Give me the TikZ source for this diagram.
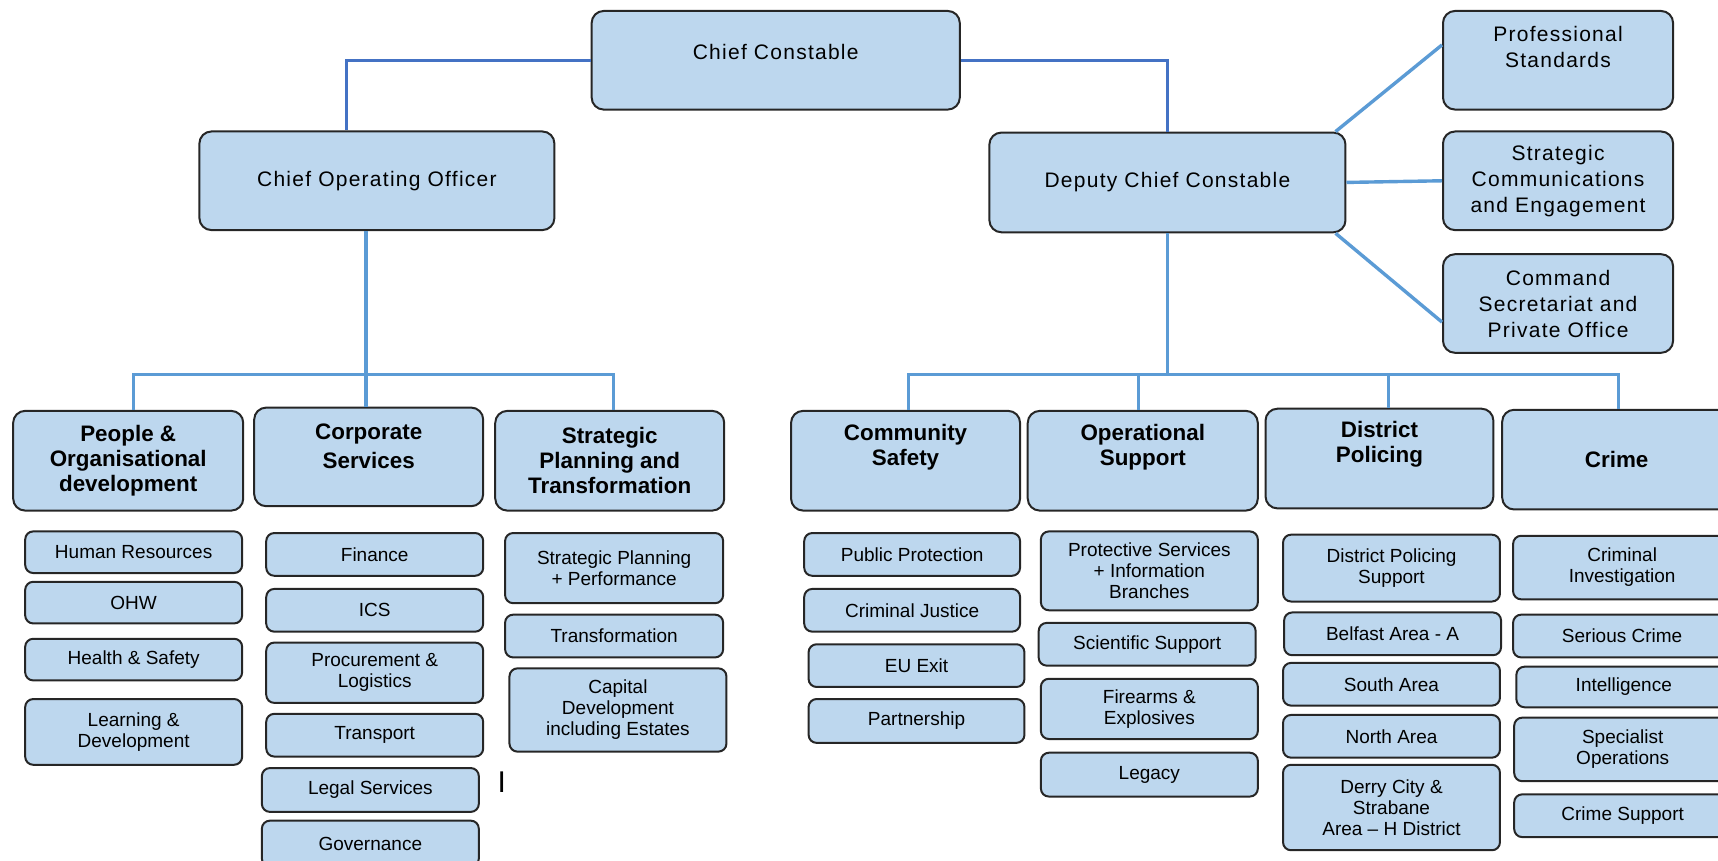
\documentclass[tikz,border=0pt]{standalone}
\usepackage{fontspec}
\setmainfont{Liberation Sans}
\newfontfamily\spacedsans[LetterSpace=6]{Liberation Sans}
\usetikzlibrary{positioning}
\definecolor{boxblue}{HTML}{BDD7EE}
\definecolor{boxedge}{HTML}{262626}
\definecolor{topline}{HTML}{4472C4}
\definecolor{subline}{HTML}{5B9BD5}
\newlength{\unitpx}
\setlength{\unitpx}{0.5478pt}

\begin{document}
\begin{tikzpicture}[x=\unitpx,y=-\unitpx,
  rankbox/.style={draw=boxedge,fill=boxblue,line width=1pt,rounded corners=6pt,align=center,inner sep=2pt},
  topbox/.style={rankbox,minimum width=210\unitpx,minimum height=90\unitpx,font=\spacedsans\fontsize{10.5}{13}\selectfont},
  headbox/.style={rankbox,minimum width=209\unitpx,minimum height=91\unitpx,font=\bfseries\fontsize{11.2}{12.5}\selectfont},
  unitbox/.style={rankbox,rounded corners=4pt,minimum width=198\unitpx,minimum height=39\unitpx,font=\fontsize{9.5}{10.5}\selectfont},
  toplink/.style={draw=topline,line width=1.7pt},
  sublink/.style={draw=subline,line width=1.7pt}]
  \clip (0,0) rectangle (1568,785);
  % command level
  \node[topbox,minimum width=336\unitpx] (cc) at (708,55) {Chief Constable\\[-9pt]\strut};
  \node[topbox,minimum width=324\unitpx] (coo) at (344,165) {Chief Operating Officer};
  \node[topbox,minimum width=325\unitpx,minimum height=91\unitpx] (dcc) at (1065.5,166.5) {Deputy Chief Constable};
  \node[topbox] (prof) at (1422,55) {Professional\\Standards\\[-4pt]\strut};
  \node[topbox] (comm) at (1422,165) {Strategic\\Communications\\and Engagement};
  \node[topbox] (cmd) at (1422,277) {Command\\Secretariat and\\Private Office};
  % departments
  \node[headbox,minimum width=210\unitpx] (pod) at (117,420.5) {People \&\\Organisational\\development};
  \node[headbox,minimum height=90\unitpx] (corp) at (336.5,417) {Corporate\\[2pt]Services\\[-6pt]\strut};
  \node[headbox] (spt) at (556.5,420.5) {Strategic\\Planning and\\Transformation};
  \node[headbox] (cs) at (826.5,420.5) {Community\\Safety\\\strut};
  \node[headbox,minimum width=210\unitpx] (ops) at (1043,420.5) {Operational\\Support\\\strut};
  \node[headbox,minimum width=208\unitpx] (dp) at (1259,418.5) {District\\Policing\\\strut};
  \node[headbox] (crime) at (1475.5,419.5) {Crime};
  % units
  \node[unitbox,minimum height=38\unitpx] (hr) at (122,504) {Human Resources};
  \node[unitbox,minimum height=38\unitpx] (ohw) at (122,550) {OHW};
  \node[unitbox,minimum height=38\unitpx] (hs) at (122,602) {Health \& Safety};
  \node[unitbox,minimum height=60\unitpx] (ld) at (122,668) {Learning \&\\Development};
  \node[unitbox] (fin) at (342,506) {Finance};
  \node[unitbox] (ics) at (342,557) {ICS};
  \node[unitbox,minimum height=55\unitpx] (proc) at (342,614) {Procurement \&\\Logistics};
  \node[unitbox] (trans) at (342,671) {Transport};
  \node[unitbox,minimum height=40\unitpx] (legal) at (338,721) {Legal Services};
  \node[unitbox,minimum height=42\unitpx] (gov) at (338,770) {Governance};
  \node[unitbox,minimum width=199\unitpx,minimum height=64\unitpx] (spp) at (560.5,518.5) {Strategic Planning\\+ Performance};
  \node[unitbox,minimum width=199\unitpx] (tf) at (560.5,580.5) {Transformation};
  \node[unitbox,minimum height=76\unitpx] (cap) at (564,648) {Capital\\Development\\including Estates};
  \node[font=\fontsize{15}{15}\selectfont,inner sep=0pt] (cursor) at (458,714) {I};
  \node[unitbox,minimum width=197\unitpx] (pp) at (832.5,506) {Public Protection};
  \node[unitbox,minimum width=197\unitpx] (cj) at (832.5,557) {Criminal Justice};
  \node[unitbox,minimum width=197\unitpx] (eu) at (836.5,607.5) {EU Exit};
  \node[unitbox,minimum width=197\unitpx,minimum height=40\unitpx] (part) at (836.5,658) {Partnership};
  \node[unitbox,minimum height=72\unitpx] (psib) at (1049,521) {Protective Services\\+ Information\\Branches};
  \node[unitbox] (sci) at (1047,588) {Scientific Support};
  \node[unitbox,minimum height=55\unitpx] (fe) at (1049,647) {Firearms \&\\Explosives};
  \node[unitbox,minimum height=40\unitpx] (leg) at (1049,707) {Legacy};
  \node[unitbox,minimum height=61\unitpx] (dps) at (1270,518.5) {District Policing\\Support};
  \node[unitbox] (bel) at (1271,578.5) {Belfast Area - A};
  \node[unitbox] (south) at (1270,624.5) {South Area};
  \node[unitbox] (north) at (1270,672) {North Area};
  \node[unitbox,minimum height=78\unitpx] (derry) at (1270,737) {Derry City \&\\Strabane\\Area -- H District};
  \node[unitbox,minimum width=199\unitpx,minimum height=58\unitpx] (ci) at (1480.5,518) {Criminal\\Investigation};
  \node[unitbox,minimum width=199\unitpx] (sc) at (1480.5,580.5) {Serious Crime};
  \node[unitbox,minimum width=196\unitpx,minimum height=37\unitpx] (intel) at (1482,627) {Intelligence};
  \node[unitbox,minimum width=198\unitpx,minimum height=58\unitpx] (so) at (1481,684) {Specialist\\Operations};
  \node[unitbox] (csup) at (1481,744.5) {Crime Support};
  % reporting lines
  \coordinate (lbus) at (334,342);
  \coordinate (rbus) at (1066,342);
  \draw[toplink] (cc.west) -| ([xshift=-28\unitpx]coo.north);
  \draw[toplink] (cc.east) -| (dcc.north);
  \draw[sublink] ([xshift=-10\unitpx]coo.south) -- (lbus);
  \draw[sublink] ([xshift=5\unitpx]pod.north) |- (lbus) -| ([xshift=3.5\unitpx]spt.north);
  \draw[sublink] (lbus) -- (lbus |- corp.north);
  \draw[sublink] (dcc.south) -- (dcc.south |- rbus);
  \draw[sublink] ([xshift=2.5\unitpx]cs.north) |- (rbus) -| ([xshift=1.5\unitpx]crime.north);
  \draw[sublink] ([xshift=-4\unitpx]ops.north) |- (rbus);
  \draw[sublink] ([xshift=8\unitpx]dp.north) |- (rbus);
  \draw[sublink] ([xshift=-10\unitpx]dcc.north east) -- ([yshift=14\unitpx]prof.west);
  \draw[sublink] (dcc.east) -- (comm.west);
  \draw[sublink] ([xshift=-10\unitpx]dcc.south east) -- ([yshift=-17\unitpx]cmd.west);
\end{tikzpicture}
\end{document}
